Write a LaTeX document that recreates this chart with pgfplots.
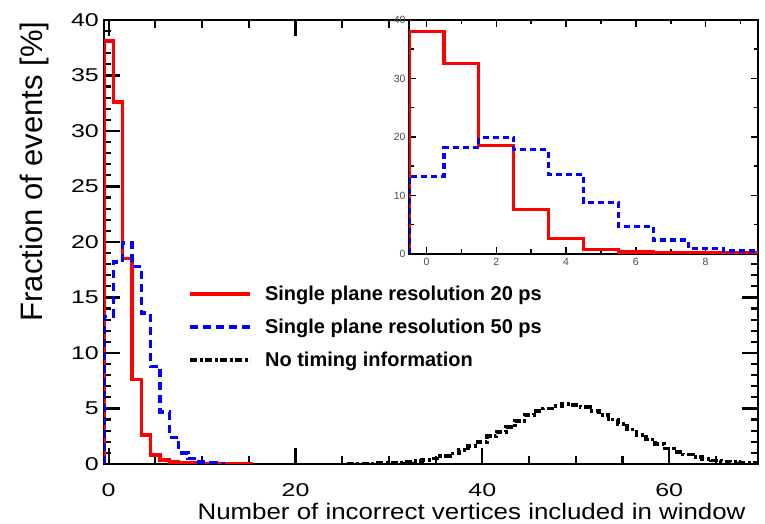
\documentclass[border=0pt]{standalone}
\usepackage{fontspec}
\setmainfont{Liberation Sans}
\usepackage{pgfplots}
\pgfplotsset{compat=1.18}
\begin{document}
\begin{tikzpicture}[x=1pt,y=1pt]
\path[use as bounding box] (-104,-60) rectangle (661,464);
\begin{axis}[
  at={(0pt,0pt)}, anchor=south west,
  scale only axis, width=654pt, height=444pt,
  xmin=-0.5, xmax=69.5, ymin=0, ymax=40,
  xtick={0,20,40,60}, minor xtick={5,10,15,25,30,35,45,50,55,65},
  ytick={0,5,...,40}, minor ytick={1,2,3,4,6,7,8,9,11,12,13,14,16,17,18,19,21,22,23,24,26,27,28,29,31,32,33,34,36,37,38,39},
  tick align=inside,
  tick style={line width=2.2pt, black},
  major tick length=16pt, minor tick length=7.5pt,
  axis line style={line width=2.8pt},
  /pgf/number format/assume math mode=true,
  tick label style={font=\fontsize{18.5}{18.5}\selectfont},
  xticklabel={\scalebox{1.35}[1]{\pgfmathprintnumber{\tick}}},
  yticklabel={\scalebox{1.35}[1]{\pgfmathprintnumber{\tick}}},
  xticklabel style={anchor=north, inner sep=0pt, yshift=-19pt},
  yticklabel style={anchor=east, inner sep=0pt, xshift=-5pt},
  xlabel={\scalebox{1.15}[1]{Number of incorrect vertices included in window}},
  xlabel style={font=\fontsize{22.5}{22.5}\selectfont, at={(axis description cs:0.562,0)}, anchor=base, yshift=-55pt, inner sep=0pt},
  ylabel={Fraction of events [\%]},
  ylabel style={font=\fontsize{31}{31}\selectfont, at={(axis description cs:-0.0933,0.659)}, anchor=base, inner sep=0pt},
  legend style={draw=none, fill=none, at={(axis description cs:0.124,0.41)}, anchor=north west,
    font=\fontsize{20}{20}\selectfont\bfseries, row sep=13pt, legend cell align=left},
  legend image code/.code={\draw[#1] (0pt,0pt) -- (60pt,0pt); \path (71pt,0pt);},
]
\addplot[const plot, red, line width=3.5pt] coordinates {
(-0.5,0) (-0.5,38.1) (0.5,32.6) (1.5,18.5) (2.5,7.6) (3.5,2.6) (4.5,0.8) (5.5,0.35) (6.5,0.2) (7.5,0.15) (8.5,0.1) (9.5,0.05) (10.5,0.02) (15.5,0.02)};
\addlegendentry{Single plane resolution 20 ps}
\addplot[const plot, blue, line width=3.5pt, dash pattern=on 8pt off 5pt] coordinates {
(-0.5,0) (-0.5,13.3) (0.5,18.2) (1.5,19.9) (2.5,17.8) (3.5,13.6) (4.5,8.8) (5.5,4.7) (6.5,2.4) (7.5,1.0) (8.5,0.5) (9.5,0.2) (10.5,0.1) (11.5,0.05) (12.5,0.05)};
\addlegendentry{Single plane resolution 50 ps}
\addplot[const plot, black, line width=3.8pt, dash pattern=on 7pt off 2.5pt on 3pt off 2.5pt] coordinates {
(25.5,0.03) (26.5,0.04) (27.5,0.05) (28.5,0.08) (29.5,0.1) (30.5,0.12) (31.5,0.17) (32.5,0.25) (33.5,0.35) (34.5,0.5) (35.5,0.7) (36.5,0.95) (37.5,1.25) (38.5,1.6) (39.5,2.0) (40.5,2.5) (41.5,2.9) (42.5,3.3) (43.5,3.9) (44.5,4.4) (45.5,4.8) (46.5,5.0) (47.5,5.2) (48.5,5.4) (49.5,5.3) (50.5,5.1) (51.5,4.8) (52.5,4.4) (53.5,4.0) (54.5,3.6) (55.5,3.1) (56.5,2.6) (57.5,2.2) (58.5,1.8) (59.5,1.4) (60.5,1.1) (61.5,0.85) (62.5,0.6) (63.5,0.45) (64.5,0.32) (65.5,0.22) (66.5,0.15) (67.5,0.1) (68.5,0.07) (69.5,0.05)};
\addlegendentry{No timing information}
\end{axis}
\begin{axis}[
  at={(305pt,210pt)}, anchor=south west,
  scale only axis, width=349pt, height=234pt,
  xmin=-0.5, xmax=9.5, ymin=0, ymax=40,
  axis background/.style={fill=white},
  xtick={0,2,...,8}, minor xtick={1,3,...,9},
  ytick={0,10,...,40}, minor ytick={5,15,...,35},
  tick align=inside,
  tick style={line width=1.5pt, black},
  major tick length=7pt, minor tick length=4.5pt,
  axis line style={line width=2pt},
  /pgf/number format/assume math mode=true,
  tick label style={font=\fontsize{10.5}{10.5}\selectfont, text=black!70},
  xticklabel style={yshift=-1pt},
]
\addplot[const plot, red, line width=3.2pt] coordinates {
(-0.5,0) (-0.5,38.1) (0.5,32.6) (1.5,18.5) (2.5,7.6) (3.5,2.6) (4.5,0.8) (5.5,0.35) (6.5,0.3) (7.5,0.25) (8.5,0.2) (9.5,0.2)};
\addplot[const plot, blue, line width=3.2pt, dash pattern=on 6pt off 4pt] coordinates {
(-0.5,0) (-0.5,13.3) (0.5,18.2) (1.5,19.9) (2.5,17.8) (3.5,13.6) (4.5,8.8) (5.5,4.7) (6.5,2.4) (7.5,1.0) (8.5,0.5) (9.5,0.5)};
\end{axis}
\end{tikzpicture}
\end{document}
